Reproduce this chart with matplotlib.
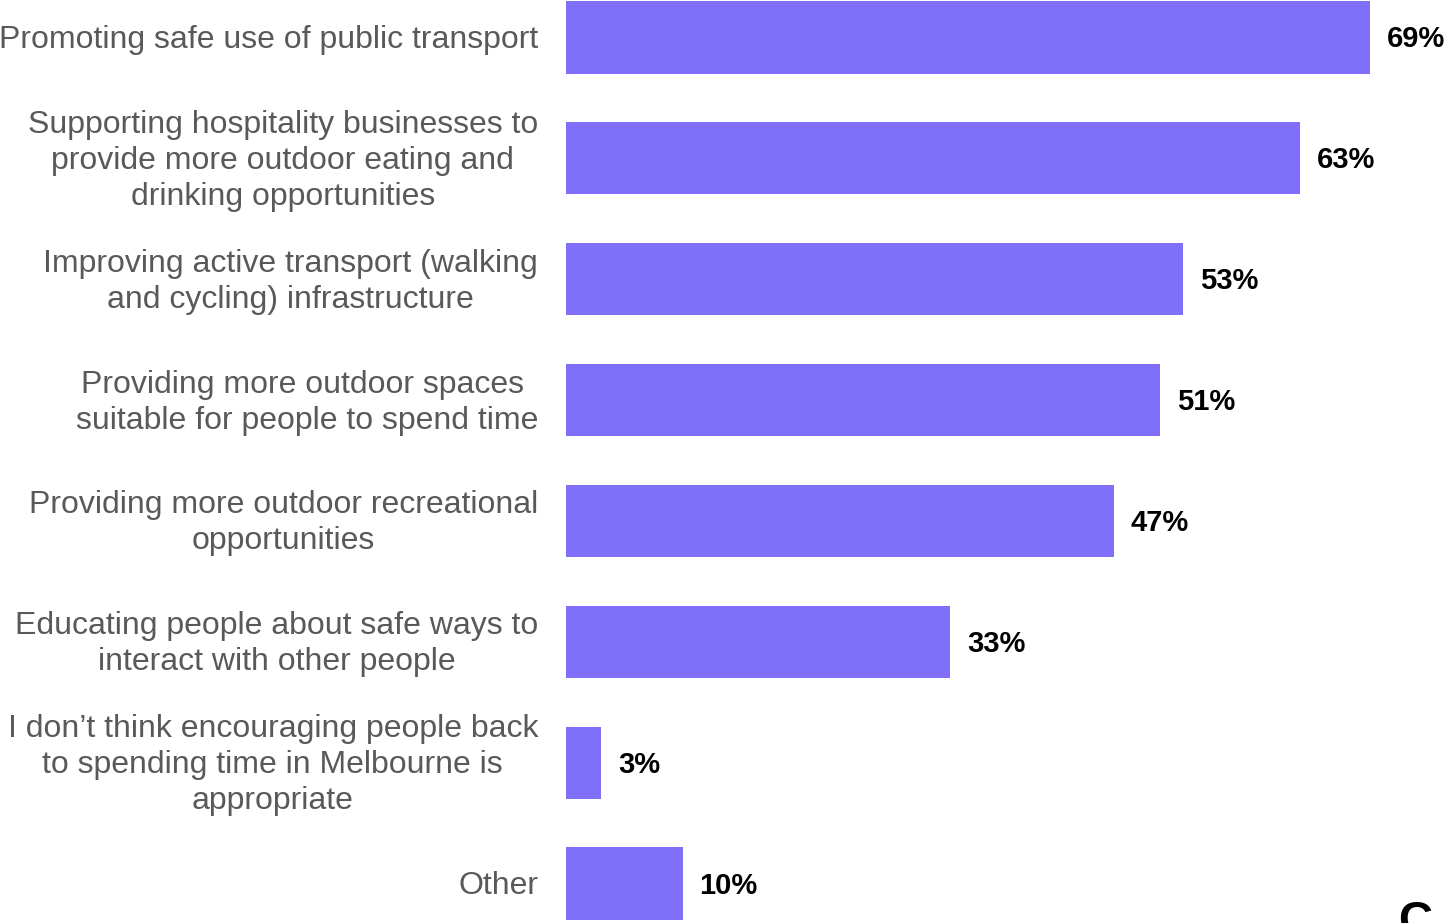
import matplotlib
matplotlib.use("Agg")
import matplotlib.pyplot as plt

categories = [
    "Promoting safe use of public transport",
    "Supporting hospitality businesses to\nprovide more outdoor eating and\ndrinking opportunities",
    "Improving active transport (walking\nand cycling) infrastructure",
    "Providing more outdoor spaces \nsuitable for people to spend time",
    "Providing more outdoor recreational\nopportunities",
    "Educating people about safe ways to\ninteract with other people",
    "I don\u2019t think encouraging people back\nto spending time in Melbourne is\nappropriate",
    "Other",
]
values = [69, 63, 53, 51, 47, 33, 3, 10]
value_labels = ["69%", "63%", "53%", "51%", "47%", "33%", "3%", "10%"]

plt.rcParams['font.family'] = ['Liberation Sans', 'DejaVu Sans']

W, H = 1444, 923
fig = plt.figure(figsize=(W / 100, H / 100), dpi=100)
ax = fig.add_axes([566 / W, 0, 1 - 566 / W, 1])

bar_color = "#7F6FF9"
ypos = list(range(len(categories)))
ax.barh(ypos, values, height=0.6, color=bar_color, edgecolor="none")
ax.set_xlim(0, (W - 566) / 11.65)
ax.set_ylim(7.325, -0.308)

for y, v, lab in zip(ypos, values, value_labels):
    ax.annotate(lab, xy=(v, y), xytext=(17, -2), textcoords="offset pixels",
                ha="left", va="center", fontsize=21, fontweight="bold",
                color="black", annotation_clip=False)

for y, cat in zip(ypos, categories):
    ax.annotate(cat, xy=(0, y), xytext=(-28, -2.5), textcoords="offset pixels",
                ha="right", va="center", multialignment="center",
                fontsize=23, color="#595959", linespacing=1.26,
                annotation_clip=False)

ax.set_xticks([])
ax.set_yticks([])
for s in ax.spines.values():
    s.set_visible(False)

fig.text(1398 / W, 1 - 900 / H, "C", fontsize=34, fontweight="bold",
         color="black", ha="left", va="top")

fig.savefig("out.png", dpi=100)
